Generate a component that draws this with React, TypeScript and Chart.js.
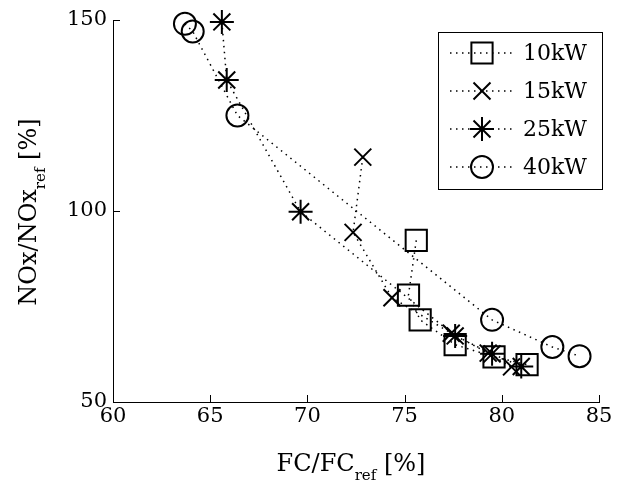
import React, { useEffect, useRef } from 'react';
import { Chart, registerables } from 'chart.js';
import { drawPoint } from 'chart.js/helpers';

Chart.register(...registerables);

const seriesNames = ['10kW', '15kW', '25kW', '40kW'];

const fc10 = [75.6, 75.2, 75.8, 77.6, 79.6, 81.3];
const nox10 = [92.3, 78.0, 71.5, 65.0, 61.8, 59.8];

const fc15 = [72.85, 72.35, 74.35, 77.4, 79.3, 80.5];
const nox15 = [114.1, 94.4, 77.3, 68.0, 62.8, 59.2];

const fc25 = [65.6, 65.85, 69.65, 77.6, 79.5, 81.0];
const nox25 = [149.5, 134.3, 99.8, 67.3, 62.6, 59.3];

const fc40 = [63.7, 64.1, 66.4, 79.5, 82.6, 84.0];
const nox40 = [149.0, 147.0, 125.0, 71.5, 64.4, 62.0];

const xTicks = [60, 65, 70, 75, 80, 85];
const yTicks = [50, 100, 150];

const FONT = '"DejaVu Serif", serif';
const INK = '#000000';

const pts = (xs: number[], ys: number[]) => xs.map((x, i) => ({ x, y: ys[i] }));

const markerStyles = [
  { pointStyle: 'rect', radius: 15 },
  { pointStyle: 'crossRot', radius: 12 },
  { pointStyle: 'star', radius: 12 },
  { pointStyle: 'circle', radius: 11 },
];

const DASH = [1.5, 4.5];

function drawLabel(ctx: CanvasRenderingContext2D, parts: { t: string; sub?: boolean }[], cx: number, baseline: number) {
  const mainFont = `24px ${FONT}`;
  const subFont = `15px ${FONT}`;
  let total = 0;
  const widths = parts.map((p) => {
    ctx.font = p.sub ? subFont : mainFont;
    const w = ctx.measureText(p.t).width;
    total += w;
    return w;
  });
  let x = cx - total / 2;
  ctx.textAlign = 'left';
  ctx.textBaseline = 'alphabetic';
  parts.forEach((p, i) => {
    ctx.font = p.sub ? subFont : mainFont;
    ctx.fillText(p.t, x, baseline + (p.sub ? 9 : 0));
    x += widths[i];
  });
}

const customPlugin = {
  id: 'customDecor',
  afterDraw(chart: any) {
    const ctx: CanvasRenderingContext2D = chart.ctx;
    const { left, bottom } = chart.chartArea;
    const xs = chart.scales.x;
    const ys = chart.scales.y;
    ctx.save();
    // inward ticks
    ctx.strokeStyle = INK;
    ctx.lineWidth = 1;
    ctx.setLineDash([]);
    ctx.beginPath();
    xTicks.forEach((v) => {
      const px = Math.round(xs.getPixelForValue(v)) + 0.5;
      ctx.moveTo(px, bottom);
      ctx.lineTo(px, bottom - 7);
    });
    yTicks.forEach((v) => {
      const py = Math.round(ys.getPixelForValue(v)) + 0.5;
      ctx.moveTo(left, py);
      ctx.lineTo(left + 7, py);
    });
    ctx.stroke();

    // axis titles
    ctx.fillStyle = INK;
    drawLabel(ctx, [{ t: 'FC/FC' }, { t: 'ref', sub: true }, { t: ' [%]' }], 351, 471);
    ctx.save();
    ctx.translate(36, 212);
    ctx.rotate(-Math.PI / 2);
    drawLabel(ctx, [{ t: 'NOx/NOx' }, { t: 'ref', sub: true }, { t: ' [%]' }], 0, 0);
    ctx.restore();

    // legend
    ctx.fillStyle = '#ffffff';
    ctx.fillRect(438.5, 32.5, 164, 157);
    ctx.strokeStyle = INK;
    ctx.lineWidth = 1;
    ctx.strokeRect(438.5, 32.5, 164, 157);
    seriesNames.forEach((name, i) => {
      const y = 53 + i * 38;
      ctx.save();
      ctx.strokeStyle = INK;
      ctx.lineWidth = 1.5;
      ctx.setLineDash(DASH);
      ctx.beginPath();
      ctx.moveTo(450, y);
      ctx.lineTo(515, y);
      ctx.stroke();
      ctx.restore();
      ctx.save();
      ctx.strokeStyle = INK;
      ctx.fillStyle = 'rgba(0,0,0,0)';
      ctx.lineWidth = 2;
      ctx.setLineDash([]);
      drawPoint(ctx, { pointStyle: markerStyles[i].pointStyle as any, radius: markerStyles[i].radius, rotation: 0, borderWidth: 2 }, 482, y);
      ctx.restore();
      ctx.fillStyle = INK;
      ctx.font = `22px ${FONT}`;
      ctx.textAlign = 'left';
      ctx.textBaseline = 'middle';
      ctx.fillText(name, 523, y + 1);
    });
    ctx.restore();
  },
};

export default function App() {
  const ref = useRef<HTMLCanvasElement | null>(null);
  useEffect(() => {
    if (!ref.current) return;
    const data = [pts(fc10, nox10), pts(fc15, nox15), pts(fc25, nox25), pts(fc40, nox40)];
    const chart = new Chart(ref.current, {
      type: 'scatter',
      data: {
        datasets: seriesNames.map((name, i) => ({
          label: name,
          data: data[i],
          showLine: true,
          clip: false,
          borderColor: INK,
          borderWidth: 1.5,
          borderDash: DASH,
          backgroundColor: 'rgba(0,0,0,0)',
          pointStyle: markerStyles[i].pointStyle as any,
          pointRadius: markerStyles[i].radius,
          pointBorderWidth: 2,
          pointBorderColor: INK,
          pointBackgroundColor: 'rgba(0,0,0,0)',
          fill: false,
        })),
      },
      options: {
        animation: false,
        responsive: false,
        layout: { padding: { top: 20, right: 27, left: 0, bottom: 0 } },
        plugins: { legend: { display: false }, tooltip: { enabled: false } },
        scales: {
          x: {
            type: 'linear',
            min: 60,
            max: 85,
            afterFit: (s: any) => { s.height = 82; },
            afterBuildTicks: (s: any) => { s.ticks = xTicks.map((v) => ({ value: v })); },
            ticks: { color: INK, font: { family: FONT, size: 21 }, padding: 2 },
            grid: { drawOnChartArea: false, drawTicks: false },
            border: { display: true, color: INK, width: 1 },
          },
          y: {
            type: 'linear',
            min: 50,
            max: 150,
            afterFit: (s: any) => { s.width = 113; },
            afterBuildTicks: (s: any) => { s.ticks = yTicks.map((v) => ({ value: v })); },
            ticks: { color: INK, font: { family: FONT, size: 21 }, padding: 6 },
            grid: { drawOnChartArea: false, drawTicks: false },
            border: { display: true, color: INK, width: 1 },
          },
        },
      },
      plugins: [customPlugin],
    });
    return () => chart.destroy();
  }, []);
  return (
    <div style={{ position: 'absolute', left: 0, top: 0, width: 626, height: 484, background: '#fff' }}>
      <canvas ref={ref} width={626} height={484} style={{ width: 626, height: 484, display: 'block' }} />
    </div>
  );
}
